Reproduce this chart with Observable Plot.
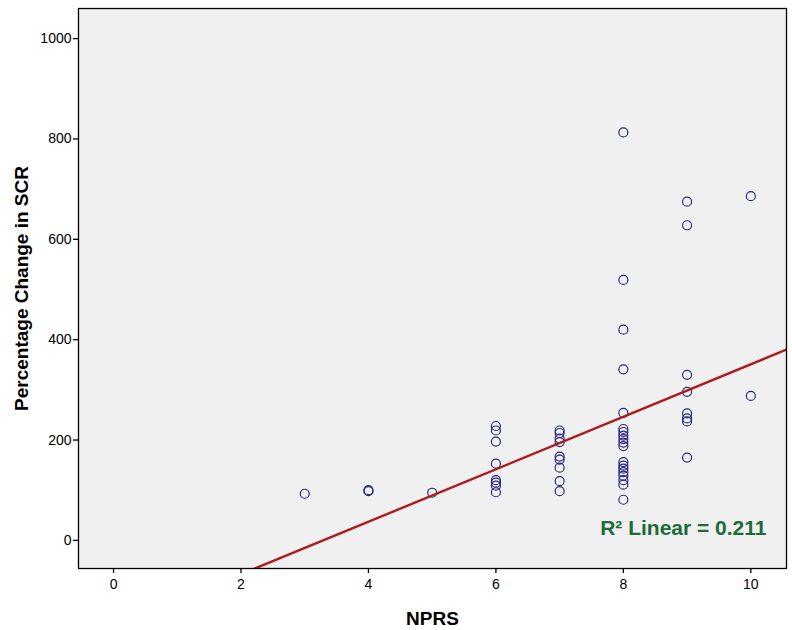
<!DOCTYPE html>
<html>
<head>
<meta charset="utf-8">
<script src="https://cdn.jsdelivr.net/npm/d3@7"></script>
<script src="https://cdn.jsdelivr.net/npm/@observablehq/plot@0.6"></script>
<style>
  body { margin: 0; background: #ffffff; }
  #chart svg { display: block; }
</style>
</head>
<body>
<div id="chart"></div>
<script>
// NPRS score for each observation
const nprs = [
  3,
  4, 4,
  5,
  6, 6, 6, 6, 6, 6, 6, 6,
  7, 7, 7, 7, 7, 7, 7, 7, 7,
  8, 8, 8, 8, 8, 8, 8, 8, 8, 8, 8, 8, 8, 8, 8, 8, 8, 8, 8,
  9, 9, 9, 9, 9, 9, 9, 9,
  10, 10
];
// Percentage change in SCR for each observation
const scrChange = [
  93,
  98, 100,
  95,
  228, 219, 197, 153, 120, 115, 109, 96,
  219, 214, 203, 196, 167, 161, 145, 118, 98,
  813, 519, 420, 341, 254, 222, 216, 209, 202, 195, 188, 156, 149, 143, 136, 129, 120, 111, 81,
  675, 628, 330, 296, 253, 243, 237, 165,
  686, 288
];
// Fit line (R² Linear = 0.211)
const fitIntercept = -172;
const fitSlope = 52.3;
const fitLabel = "R\u00b2 Linear = 0.211";
const xTicks = [0, 2, 4, 6, 8, 10];
const yTicks = [0, 200, 400, 600, 800, 1000];
const xDomain = [-0.55, 10.56];
const yDomain = [-56, 1060];

const points = nprs.map((x, i) => ({x, y: scrChange[i]}));
const fitLine = xDomain.map(x => ({x, y: fitIntercept + fitSlope * x}));

const chart = Plot.plot({
  width: 792,
  height: 630,
  marginLeft: 78,
  marginRight: 6,
  marginTop: 8,
  marginBottom: 62,
  style: {fontFamily: "'Liberation Sans', Arial, sans-serif", fontSize: "14px", color: "#000", background: "#fff"},
  x: {domain: xDomain, ticks: xTicks, tickFormat: d3.format("d"), tickSize: 5, tickPadding: 6, label: "NPRS", labelArrow: "none", labelAnchor: "center", labelOffset: 56},
  y: {domain: yDomain, ticks: yTicks, tickFormat: d3.format("d"), tickSize: 5, tickPadding: 2, label: "Percentage Change in SCR", labelArrow: "none", labelAnchor: "center", labelOffset: 64},
  marks: [
    Plot.frame({fill: "#f0f0f0", stroke: null}),
    Plot.dot(points, {x: "x", y: "y", r: 4.5, stroke: "#26287a", strokeWidth: 1.2, fill: "none"}),
    Plot.line(fitLine, {x: "x", y: "y", stroke: "#ad1b1f", strokeWidth: 2.4, clip: true}),
    Plot.text([fitLabel], {frameAnchor: "bottom-right", dx: -20, dy: -34, text: d => d, fill: "#1c6b38", fontWeight: "bold", fontSize: 21}),
    Plot.frame({stroke: "#000", strokeWidth: 1.3})
  ]
});

// make axis labels bold & larger
chart.querySelectorAll("g[aria-label='x-axis label'] text, g[aria-label='y-axis label'] text").forEach(t => {
  t.style.fontWeight = "bold";
  t.style.fontSize = "19px";
});
chart.querySelectorAll("g[aria-label='x-axis tick'] path, g[aria-label='y-axis tick'] path").forEach(p => {
  p.setAttribute("stroke-width", "1.3");
});
document.getElementById("chart").appendChild(chart);
</script>
</body>
</html>
